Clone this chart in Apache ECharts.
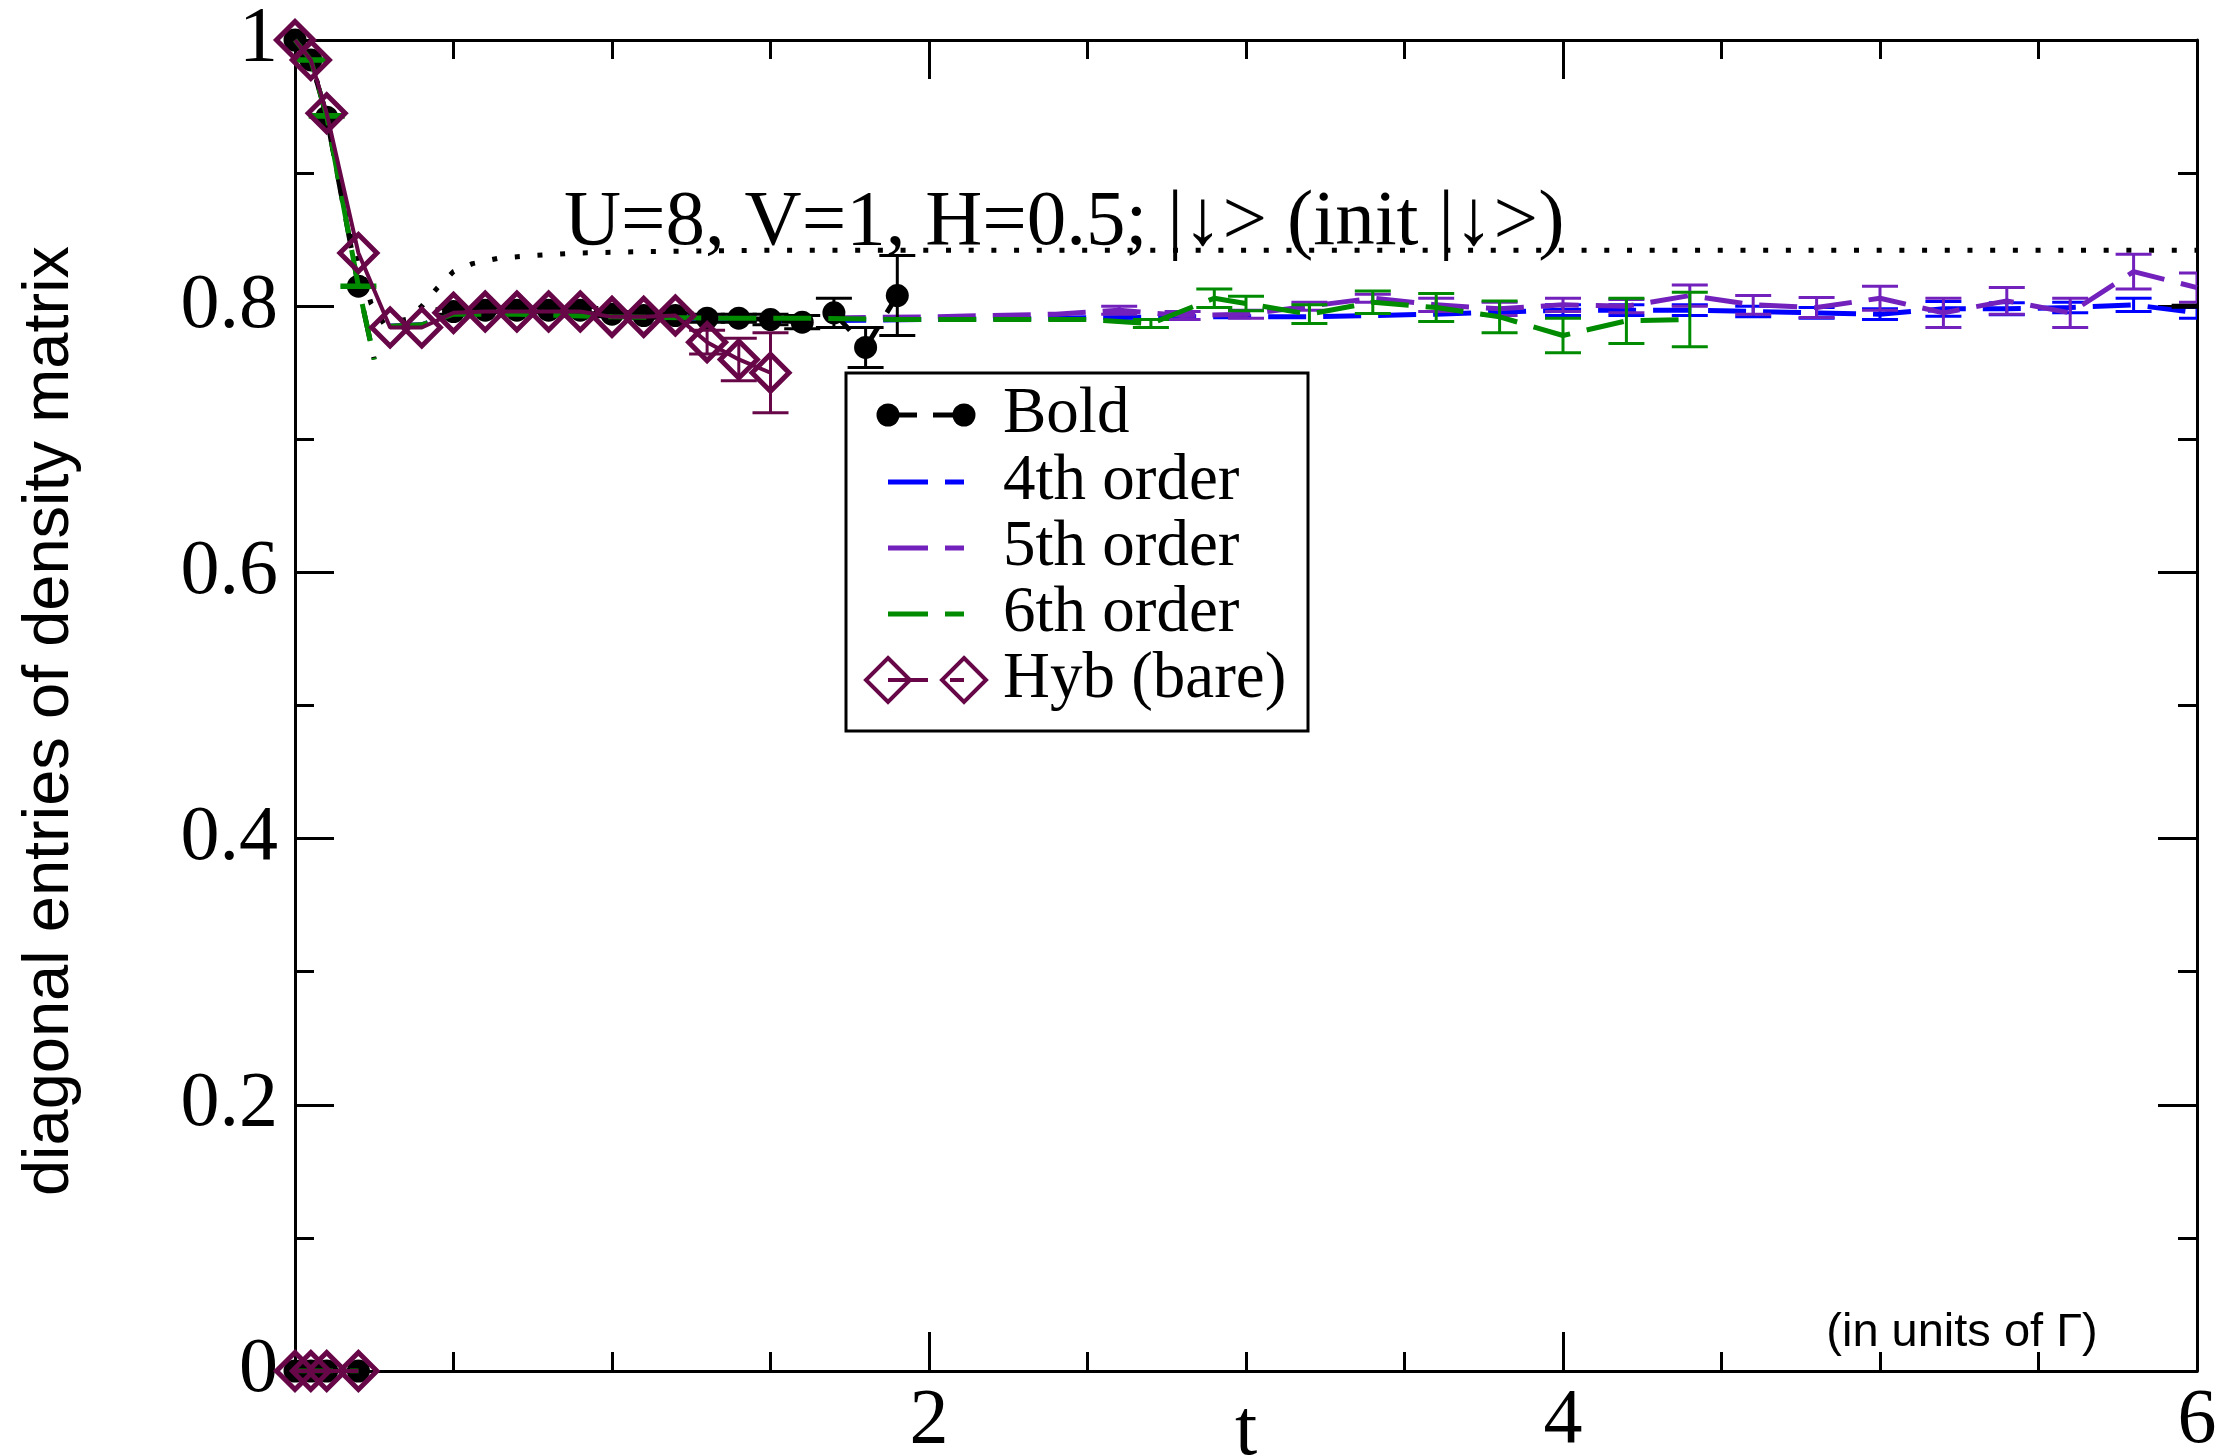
<!DOCTYPE html>
<html>
<head>
<meta charset="utf-8">
<script src="https://cdn.jsdelivr.net/npm/echarts@6/dist/echarts.min.js"></script>
<style>
html, body { margin: 0; padding: 0; background: #fff; }
#main { width: 2224px; height: 1456px; }
</style>
</head>
<body>
<div id="main"></div>
<script>
// short-time part, t <= 0.25
var shortT = [0, 0.05, 0.1, 0.2, 0.25];
var boldShortY = [1.0, 0.985, 0.942, 0.815, 0.760];
var greenShortY = [1.0, 0.985, 0.943, 0.815, 0.760];

// Bold (black circles)
var boldT = [0.5, 0.6, 0.7, 0.8, 0.9, 1.0, 1.1, 1.2, 1.3, 1.4, 1.5, 1.6, 1.7, 1.8, 1.9];
var boldY = [0.796, 0.797, 0.797, 0.797, 0.797, 0.794, 0.793, 0.793, 0.791, 0.791, 0.790, 0.788, 0.795, 0.769, 0.808];
var boldErr = [0.002, 0.002, 0.002, 0.002, 0.002, 0.002, 0.002, 0.002, 0.003, 0.003, 0.004, 0.005, 0.011, 0.015, 0.030];
var boldTailT = [5.92, 6.0];
var boldTailY = [0.800, 0.800];

// Hyb (bare)
var hybT = [0, 0.05, 0.1, 0.2, 0.3, 0.4, 0.5, 0.6, 0.7, 0.8, 0.9, 1.0, 1.1, 1.2, 1.3, 1.4, 1.5];
var hybY = [1.0, 0.985, 0.945, 0.840, 0.784, 0.784, 0.795, 0.796, 0.796, 0.796, 0.796, 0.792, 0.792, 0.793, 0.773, 0.760, 0.750];
var hybErr = [0, 0, 0, 0, 0, 0, 0, 0, 0, 0, 0, 0, 0, 0, 0.009, 0.016, 0.030];

// 4th order
var blueT = [0.3, 0.4, 0.5, 0.7, 1.0, 1.3, 1.6, 2.0, 2.4, 2.8, 3.2, 3.6, 4.0, 4.2, 4.4, 4.6, 4.8, 5.0, 5.2, 5.4, 5.6, 5.8, 6.0];
var blueY = [0.785, 0.786, 0.794, 0.795, 0.793, 0.790, 0.789, 0.790, 0.791, 0.792, 0.792, 0.794, 0.797, 0.797, 0.797, 0.796, 0.795, 0.794, 0.798, 0.798, 0.799, 0.801, 0.795];
var blueErr = [0, 0, 0, 0, 0, 0, 0, 0, 0, 0, 0, 0, 0.004, 0.004, 0.004, 0.004, 0.004, 0.004, 0.0055, 0.0045, 0.004, 0.005, 0.004];

// 5th order
var purpleT = [0.3, 0.4, 0.5, 0.7, 1.0, 1.3, 1.6, 2.0, 2.2, 2.4, 2.6, 2.8, 3.0, 3.2, 3.4, 3.6, 3.8, 4.0, 4.2, 4.4, 4.6, 4.8, 5.0, 5.2, 5.4, 5.6, 5.8, 6.0];
var purpleY = [0.785, 0.786, 0.795, 0.796, 0.794, 0.792, 0.791, 0.792, 0.793, 0.794, 0.797, 0.793, 0.794, 0.800, 0.806, 0.801, 0.798, 0.801, 0.800, 0.808, 0.801, 0.799, 0.806, 0.795, 0.804, 0.795, 0.826, 0.814];
var purpleErr = [0, 0, 0, 0, 0, 0, 0, 0, 0, 0, 0.003, 0.003, 0.003, 0.003, 0.003, 0.005, 0.005, 0.005, 0.005, 0.008, 0.007, 0.0075, 0.009, 0.011, 0.010, 0.011, 0.013, 0.011];

// 6th order
var greenT = [0.3, 0.4, 0.5, 0.7, 1.0, 1.3, 1.6, 1.9, 2.2, 2.5, 2.7, 2.9, 3.0, 3.2, 3.4, 3.6, 3.8, 4.0, 4.2, 4.4];
var greenY = [0.785, 0.786, 0.794, 0.794, 0.792, 0.791, 0.791, 0.790, 0.790, 0.790, 0.787, 0.806, 0.802, 0.794, 0.803, 0.799, 0.792, 0.778, 0.789, 0.790];
var greenErr = [0, 0, 0, 0, 0, 0, 0, 0, 0, 0, 0.003, 0.007, 0.0055, 0.007, 0.0085, 0.0105, 0.012, 0.013, 0.017, 0.0205];
var greenShortErr = [0, 0.001, 0.001, 0.001, 0];

// dotted reference curve
var dotT = [0, 0.05, 0.1, 0.15, 0.2, 0.24, 0.28, 0.35, 0.4, 0.45, 0.5, 0.56, 0.64, 0.75, 0.9, 1.1, 1.5, 2, 3, 4, 5, 6];
var dotY = [1.0, 0.985, 0.943, 0.88, 0.835, 0.802, 0.787, 0.790, 0.800, 0.814, 0.826, 0.832, 0.836, 0.838, 0.840, 0.841, 0.842, 0.842, 0.842, 0.842, 0.842, 0.842];

// other diagonal entry, starts at 0
var lowT = [0, 0.05, 0.1, 0.2];
var lowY = [0, 0, 0, 0];

var BLUE = '#0000ff', PURPLE = '#7221bc', GREEN = '#008b00', MAROON = '#670748';

function pairs(t, y) {
    return t.map(function (v, i) { return [v, y[i]]; });
}
function errs(t, y, e) {
    var out = [];
    t.forEach(function (v, i) { if (e[i] > 0) out.push([v, y[i], e[i]]); });
    return out;
}
function errSeries(data, color, z) {
    return {
        type: 'custom',
        clip: true,
        z: z,
        encode: { x: 0, y: 1 },
        data: data,
        renderItem: function (params, api) {
            var x = api.value(0), y = api.value(1), e = api.value(2);
            var a = api.coord([x, y + e]);
            var b = api.coord([x, y - e]);
            var w = 18;
            var st = { stroke: color, lineWidth: 3 };
            return {
                type: 'group',
                children: [
                    { type: 'line', shape: { x1: a[0], y1: a[1], x2: b[0], y2: b[1] }, style: st },
                    { type: 'line', shape: { x1: a[0] - w, y1: a[1], x2: a[0] + w, y2: a[1] }, style: st },
                    { type: 'line', shape: { x1: b[0] - w, y1: b[1], x2: b[0] + w, y2: b[1] }, style: st }
                ]
            };
        }
    };
}
function dashLine(name, data, color, z) {
    return {
        name: name, type: 'line', data: data, z: z, symbol: 'none', clip: true,
        lineStyle: { color: color, width: 5, type: [38, 17] }
    };
}

var boldShortData = pairs(shortT, boldShortY);
boldShortData[4] = { value: boldShortData[4], symbol: 'none' };

var axisCommon = {
    type: 'value',
    axisLine: { onZero: false, lineStyle: { color: '#000', width: 3 } },
    axisTick: { inside: true, length: 39, lineStyle: { color: '#000', width: 3 } },
    minorTick: { show: true, length: 19, lineStyle: { color: '#000', width: 3 } },
    splitLine: { show: false },
    minorSplitLine: { show: false }
};

var serif = 'Liberation Serif';
var legendY = [415, 482, 548, 614, 680];

function seg(x1, x2, y, color, w) {
    return { type: 'line', shape: { x1: x1, y1: y, x2: x2, y2: y }, style: { stroke: color, lineWidth: w } };
}
function legendText(txt, y) {
    return { type: 'text', x: 1003, y: y, style: { text: txt, font: '65px "Liberation Serif"', fill: '#000', verticalAlign: 'middle' } };
}
function diamond(cx, cy) {
    return { type: 'polygon', shape: { points: [[cx, cy - 22], [cx + 22, cy], [cx, cy + 22], [cx - 22, cy]] }, style: { fill: 'none', stroke: MAROON, lineWidth: 4 } };
}

var chart = echarts.init(document.getElementById('main'));
chart.setOption({
    animation: false,
    backgroundColor: '#fff',
    title: {
        text: 'U=8, V=1, H=0.5; |\u2193> (init |\u2193>)',
        left: 564, top: 184, padding: 0,
        textStyle: { fontFamily: serif, fontSize: 79, fontWeight: 'normal', color: '#000' }
    },
    grid: { left: 295, right: 27, top: 40, bottom: 85, outerBoundsMode: 'none', containLabel: false },
    xAxis: [
        Object.assign({}, axisCommon, {
            min: 0, max: 6, interval: 2, position: 'bottom',
            minorTick: Object.assign({}, axisCommon.minorTick, { splitNumber: 4 }),
            axisLabel: { showMinLabel: false, fontFamily: serif, fontSize: 78, color: '#000', margin: 12 },
            name: 't', nameLocation: 'middle', nameGap: 22, nameMoveOverlap: false,
            nameTextStyle: { fontFamily: serif, fontSize: 80, color: '#000' }
        }),
        Object.assign({}, axisCommon, {
            min: 0, max: 6, interval: 2, position: 'top',
            minorTick: Object.assign({}, axisCommon.minorTick, { splitNumber: 4 }),
            axisLabel: { show: false }
        })
    ],
    yAxis: [
        Object.assign({}, axisCommon, {
            min: 0, max: 1, interval: 0.2, position: 'left',
            minorTick: Object.assign({}, axisCommon.minorTick, { splitNumber: 2 }),
            axisLabel: { fontFamily: serif, fontSize: 78, color: '#000', margin: 17 }
        }),
        Object.assign({}, axisCommon, {
            min: 0, max: 1, interval: 0.2, position: 'right',
            minorTick: Object.assign({}, axisCommon.minorTick, { splitNumber: 2 }),
            axisLabel: { show: false }
        })
    ],
    series: [
        {
            name: 'reference', type: 'line', data: pairs(dotT, dotY), symbol: 'none', z: 2, clip: true,
            lineStyle: { color: '#000', width: 5, type: [5, 17.7], cap: 'butt' }
        },
        dashLine('4th order', pairs(blueT, blueY), BLUE, 3),
        errSeries(errs(blueT, blueY, blueErr), BLUE, 3),
        dashLine('5th order', pairs(purpleT, purpleY), PURPLE, 4),
        errSeries(errs(purpleT, purpleY, purpleErr), PURPLE, 4),
        {
            name: 'Bold', type: 'line', data: boldShortData, z: 5, clip: true,
            symbol: 'circle', symbolSize: 23, itemStyle: { color: '#000' },
            lineStyle: { color: '#000', width: 5, type: [30, 17] }
        },
        {
            name: 'Bold', type: 'line', data: pairs(boldT, boldY), z: 5, clip: true,
            symbol: 'circle', symbolSize: 23, itemStyle: { color: '#000' },
            lineStyle: { color: '#000', width: 5, type: [30, 17] }
        },
        errSeries(errs(boldT, boldY, boldErr), '#000', 5),
        {
            name: 'Bold', type: 'line', data: pairs(lowT, lowY), z: 5, clip: true,
            symbol: 'circle', symbolSize: 23, itemStyle: { color: '#000' },
            lineStyle: { color: '#000', width: 5 }
        },
        {
            name: 'Bold', type: 'line', data: pairs(boldTailT, boldTailY), z: 5, clip: true,
            symbol: 'none', lineStyle: { color: '#000', width: 5 }
        },
        dashLine('6th order', pairs(greenT, greenY), GREEN, 6),
        errSeries(errs(greenT, greenY, greenErr), GREEN, 6),
        dashLine('6th order', pairs(shortT, greenShortY), GREEN, 6),
        errSeries(errs(shortT, greenShortY, greenShortErr), GREEN, 6),
        dashLine('6th order', pairs([0, 0.2], [0, 0]), GREEN, 6),
        {
            name: 'Hyb (bare)', type: 'line', data: pairs(hybT, hybY), z: 7, clip: true,
            symbol: 'diamond', symbolSize: 37,
            itemStyle: { color: 'rgba(0,0,0,0)', borderColor: MAROON, borderWidth: 5 },
            lineStyle: { color: MAROON, width: 4 }
        },
        errSeries(errs(hybT, hybY, hybErr), MAROON, 7),
        {
            name: 'Hyb (bare)', type: 'line', data: pairs(lowT, lowY), z: 7, clip: true,
            symbol: 'diamond', symbolSize: 37,
            itemStyle: { color: 'rgba(0,0,0,0)', borderColor: MAROON, borderWidth: 5 },
            lineStyle: { color: MAROON, width: 4 }
        }
    ],
    graphic: [
        {
            type: 'text', x: 50, y: 721, rotation: Math.PI / 2, z: 20,
            style: { text: 'diagonal entries of density matrix', font: '65px "Liberation Sans"', fill: '#000', align: 'center', verticalAlign: 'middle' }
        },
        {
            type: 'text', x: 1962, y: 1333, z: 20,
            style: { text: '(in units of \u0393)', font: '47px "Liberation Sans"', fill: '#000', align: 'center', verticalAlign: 'middle' }
        },
        {
            type: 'group', z: 20,
            children: [
                { type: 'rect', shape: { x: 846, y: 373, width: 462, height: 358 }, style: { fill: '#fff', stroke: '#000', lineWidth: 3 } },
                seg(888, 917, legendY[0], '#000', 5),
                seg(933, 964, legendY[0], '#000', 5),
                { type: 'circle', shape: { cx: 888, cy: legendY[0], r: 11.5 }, style: { fill: '#000' } },
                { type: 'circle', shape: { cx: 964, cy: legendY[0], r: 11.5 }, style: { fill: '#000' } },
                legendText('Bold', legendY[0]),
                seg(888, 928, legendY[1], BLUE, 5),
                seg(945, 964, legendY[1], BLUE, 5),
                legendText('4th order', legendY[1]),
                seg(888, 928, legendY[2], PURPLE, 5),
                seg(945, 964, legendY[2], PURPLE, 5),
                legendText('5th order', legendY[2]),
                seg(888, 928, legendY[3], GREEN, 5),
                seg(945, 964, legendY[3], GREEN, 5),
                legendText('6th order', legendY[3]),
                seg(888, 928, legendY[4], MAROON, 4),
                seg(950, 964, legendY[4], MAROON, 4),
                diamond(888, legendY[4]),
                diamond(964, legendY[4]),
                legendText('Hyb (bare)', legendY[4])
            ]
        }
    ]
});
</script>
</body>
</html>
